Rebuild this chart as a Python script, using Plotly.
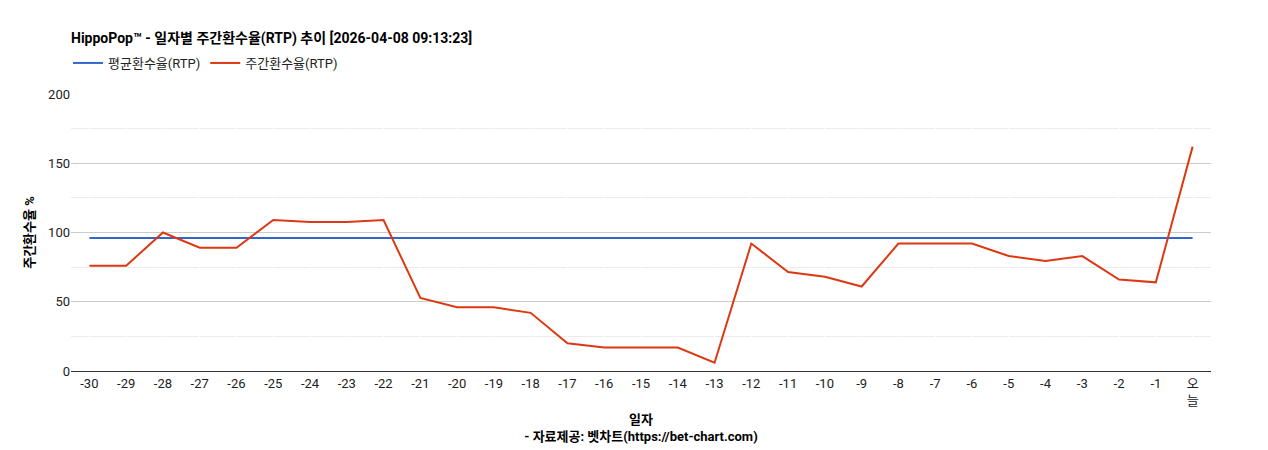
import plotly.graph_objects as go

days = [str(i) for i in range(-30, 0)] + ["오<br>늘"]
weekly_rtp = [76, 76, 100, 89, 89, 109, 107.5, 107.5, 109, 52.7, 46, 46, 42, 20, 17, 17, 17, 6,
              92, 71.5, 68, 61, 92, 92, 92, 83, 79.5, 83, 66, 64, 162]
avg_rtp = [96] * len(days)

fig = go.Figure()
fig.add_trace(go.Scatter(x=days, y=avg_rtp, mode="lines", name="평균환수율(RTP)",
                         line=dict(color="#3366cc", width=2)))
fig.add_trace(go.Scatter(x=days, y=weekly_rtp, mode="lines", name="주간환수율(RTP)",
                         line=dict(color="#dc3912", width=2)))
fig.update_layout(
    width=1268, height=450, plot_bgcolor="white", paper_bgcolor="white",
    font=dict(family="Roboto, Noto Sans CJK KR, Arial", size=13, color="#222"),
    margin=dict(l=63, r=65, t=86, b=87, autoexpand=False),
    title=dict(text="<b>HippoPop™ - 일자별 주간환수율(RTP) 추이 [2026-04-08 09:13:23]</b>",
               x=63/1268, xref="container", y=1-30/450, yref="container",
               xanchor="left", yanchor="middle",
               font=dict(size=14, color="#000")),
    legend=dict(orientation="h", x=60/1268, y=1-55/450, xref="container", yref="container",
                xanchor="left", yanchor="middle",
                font=dict(size=13, color="#222")),
    showlegend=True,
)
fig.update_xaxes(title=dict(text="<b>일자</b><br><b>- 자료제공: 벳차트(https://bet-chart.com)</b>",
                            font=dict(size=13, color="#000"), standoff=8),
                 range=[-0.5, 30.5], automargin=False,
                 showline=True, linecolor="#333", tickfont=dict(size=13, color="#222"))
fig.update_yaxes(range=[0, 200], dtick=50, gridcolor="#ccc", zeroline=False, automargin=False,
                 minor=dict(dtick=25, showgrid=True, gridcolor="#ebebeb"),
                 title=dict(text="<b>주간환수율 %</b>", font=dict(size=13, color="#000"), standoff=10),
                 tickfont=dict(size=13, color="#222"))
fig.write_html("out.html")
